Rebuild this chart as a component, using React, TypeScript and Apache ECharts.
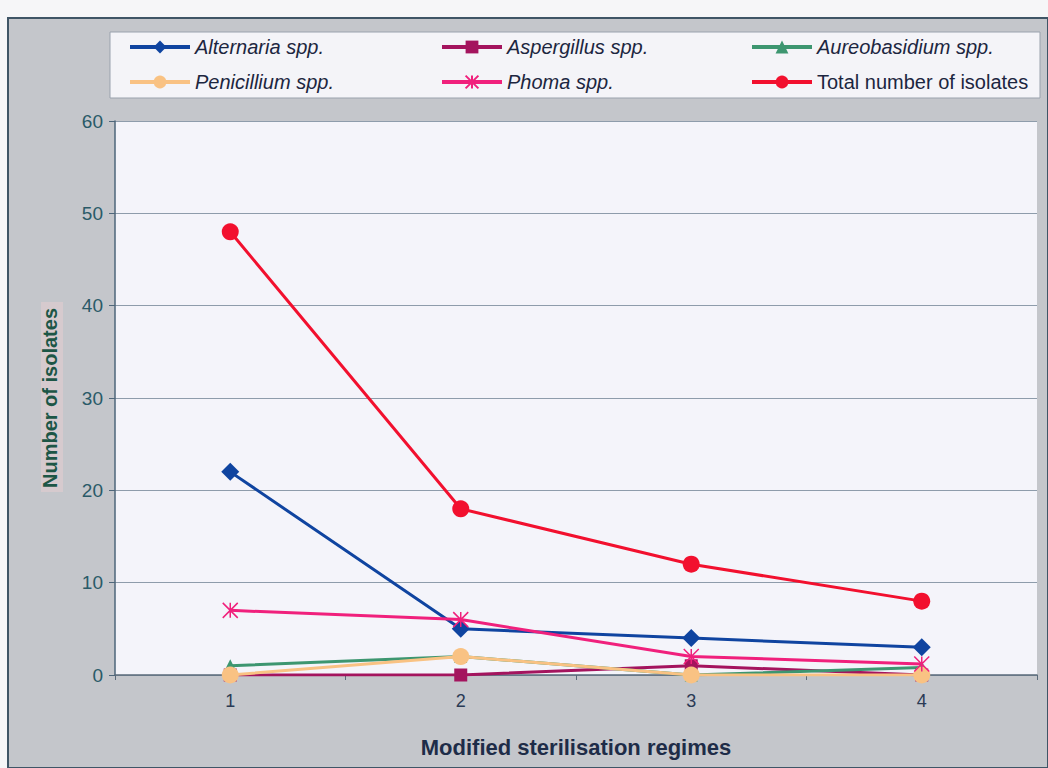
import React, { useEffect, useRef } from "react";
import * as echarts from "echarts";

// Sterilisation regimes on the x axis
const regimes = ["1", "2", "3", "4"];

// Number of isolates per genus and in total
const alternaria = [22, 5, 4, 3];
const aspergillus = [0, 0, 1, 0];
const aureobasidium = [1, 2, 0, 0.8];
const penicillium = [0, 2, 0, 0];
const phoma = [7, 6, 2, 1.2];
const total = [48, 18, 12, 8];

const yTicks = [0, 10, 20, 30, 40, 50, 60];

const FONT = "Liberation Sans, Arial, sans-serif";
const ASTERISK = "path://M0,0L10,10M10,0L0,10M5,0L5,10";

export default function App() {
  const ref = useRef<HTMLDivElement>(null);

  useEffect(() => {
    if (!ref.current) return;
    const chart = echarts.init(ref.current, null, { renderer: "svg" });

    const line = (
      name: string,
      data: number[],
      color: string,
      symbol: string,
      symbolSize: number,
      extra: any = {}
    ) => ({
      name,
      type: "line",
      data,
      symbol,
      symbolSize,
      showAllSymbol: true,
      lineStyle: { color, width: 3 },
      itemStyle: { color, borderColor: color, borderWidth: 0 },
      ...extra,
    });

    const legendText = (italic: boolean) => ({
      fontFamily: FONT,
      fontSize: 20,
      lineHeight: 18,
      fontStyle: italic ? "italic" : "normal",
      color: "#1c2640",
    });

    const legendCol = (left: number, names: string[], italics: boolean[]) => ({
      orient: "vertical",
      left,
      top: 32,
      itemWidth: 60,
      itemHeight: 16,
      itemGap: 15,
      selectedMode: false,
      lineStyle: { width: 4 },
      data: names.map((n, i) => ({ name: n, textStyle: legendText(italics[i]) })),
      textStyle: legendText(true),
    });

    chart.setOption({
      animation: false,
      backgroundColor: "#f6f6f8",
      graphic: [
        {
          type: "rect",
          shape: { x: 8, y: 18, width: 1040, height: 750 },
          style: { fill: "#c4c6cb", stroke: "#3f5566", lineWidth: 2 },
          z: -10,
        },
        {
          type: "rect",
          shape: { x: 110, y: 32, width: 930, height: 66 },
          style: { fill: "#f4f4f8", stroke: "#9aa2ad", lineWidth: 1 },
          z: -5,
        },
        {
          type: "rect",
          shape: { x: 41, y: 302, width: 22, height: 190 },
          style: { fill: "#d6cace" },
          z: -5,
        },
      ],
      legend: [
        legendCol(123, ["Alternaria spp.", "Penicillium spp."], [true, true]),
        legendCol(435, ["Aspergillus spp.", "Phoma spp."], [true, true]),
        legendCol(745, ["Aureobasidium spp.", "Total number of isolates"], [true, false]),
      ],
      grid: {
        left: 115,
        top: 121,
        right: 11,
        bottom: 93,
        show: true,
        backgroundColor: "#f4f4fa",
        borderWidth: 0,
      },
      xAxis: {
        type: "category",
        data: regimes,
        boundaryGap: true,
        name: "Modified sterilisation regimes",
        nameLocation: "middle",
        nameGap: 61,
        nameTextStyle: {
          fontFamily: FONT,
          fontSize: 22,
          fontWeight: "bold",
          color: "#1e2c48",
        },
        axisLine: { lineStyle: { color: "#5a6a7a", width: 1.5 } },
        axisTick: { show: true, length: 5, lineStyle: { color: "#5a6a7a" } },
        axisLabel: {
          fontFamily: FONT,
          fontSize: 18,
          color: "#2a3a55",
          margin: 17,
        },
      },
      yAxis: {
        type: "value",
        min: 0,
        max: 60,
        interval: 10,
        name: "Number of isolates",
        nameLocation: "middle",
        nameGap: 55,
        nameTextStyle: {
          fontFamily: FONT,
          fontSize: 20,
          fontWeight: "bold",
          color: "#1d5646",
        },
        axisLine: { show: true, lineStyle: { color: "#4e667a", width: 1.5 } },
        axisTick: { show: true, length: 6, lineStyle: { color: "#4e667a" } },
        axisLabel: {
          fontFamily: FONT,
          fontSize: 19,
          color: "#2a5a68",
          margin: 12,
          formatter: (v: number) => (yTicks.includes(v) ? String(v) : ""),
        },
        splitLine: { lineStyle: { color: "#8e9cab", width: 1 } },
      },
      series: [
        line("Alternaria spp.", alternaria, "#0f44a0", "diamond", 18),
        line("Aspergillus spp.", aspergillus, "#a4145e", "rect", 13),
        line("Aureobasidium spp.", aureobasidium, "#3d9670", "triangle", 13),
        line("Penicillium spp.", penicillium, "#f9c283", "circle", 17),
        line("Phoma spp.", phoma, "#f0207c", ASTERISK, 15, {
          itemStyle: { color: "#f0207c", borderColor: "#f0207c", borderWidth: 1.5 },
        }),
        line("Total number of isolates", total, "#f2102e", "circle", 17),
      ],
    });

    return () => chart.dispose();
  }, []);

  return (
    <div
      ref={ref}
      style={{ position: "fixed", left: 0, top: 0, width: 1048, height: 768 }}
    />
  );
}
